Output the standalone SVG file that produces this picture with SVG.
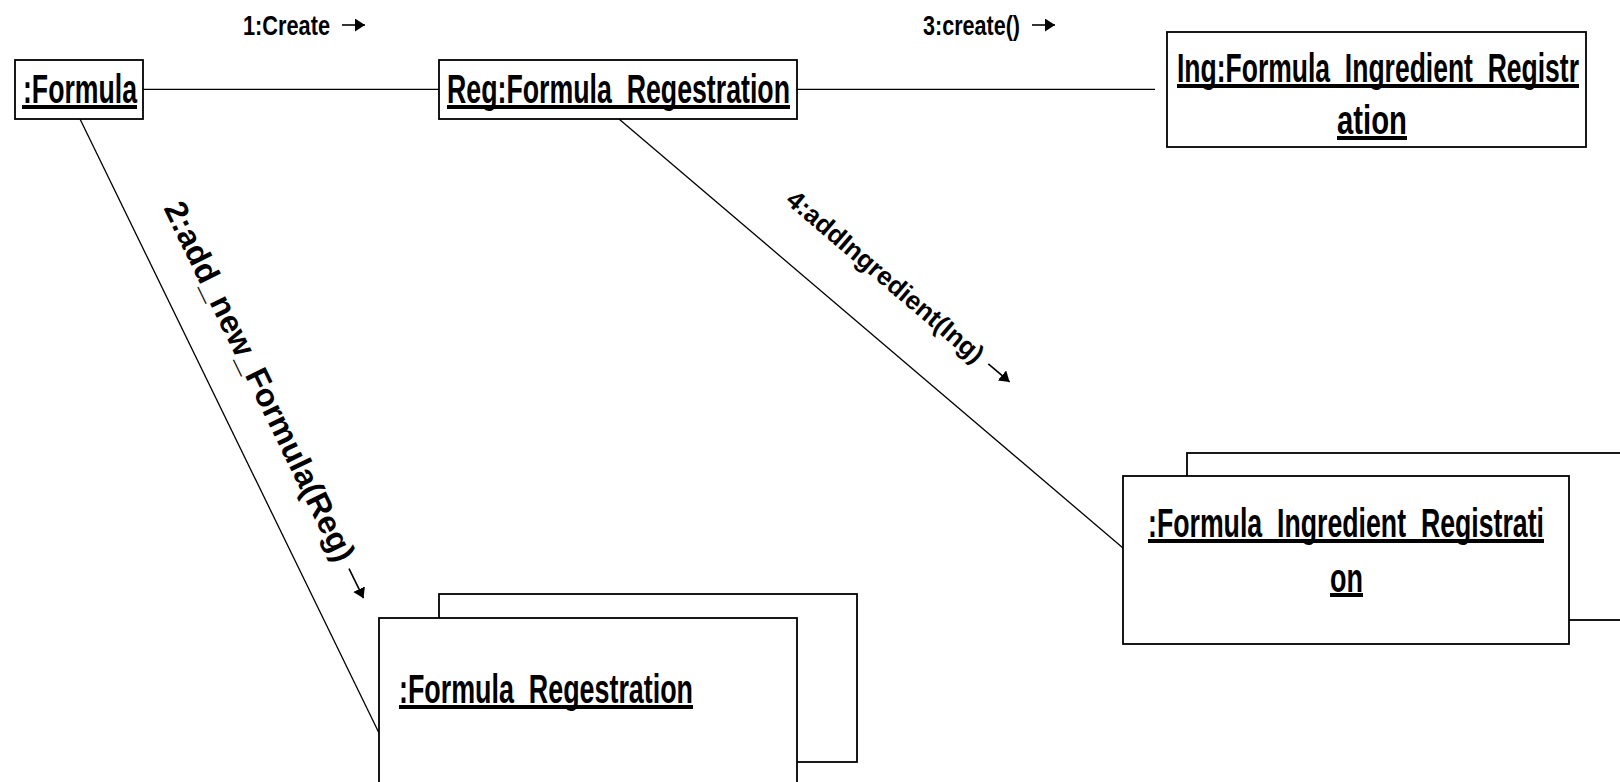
<svg xmlns="http://www.w3.org/2000/svg" width="1620" height="782" viewBox="0 0 1620 782">
  <style>
    .box { fill: #fff; stroke: #000; stroke-width: 1.8; }
    .link { stroke: #000; stroke-width: 1.3; fill: none; }
    .uline { stroke: #000; stroke-width: 4; }
    .name { font-family: "Liberation Sans Narrow", "Liberation Sans", Arial, sans-serif; font-weight: bold; font-size: 40px; fill: #000; }
    .msg { font-family: "Liberation Sans Narrow", "Liberation Sans", Arial, sans-serif; font-weight: bold; font-size: 28px; fill: #000; }
    .msgr { font-family: "Liberation Sans", Arial, sans-serif; font-weight: bold; fill: #000; }
    .arrow { stroke: #000; stroke-width: 1.6; fill: none; marker-end: url(#head); }
  </style>
  <defs>
    <marker id="head" markerUnits="userSpaceOnUse" markerWidth="11" markerHeight="13" refX="10" refY="6.5" orient="auto">
      <path d="M0,0 L10,6.5 L0,13 z" fill="#000"/>
    </marker>
  </defs>
  <rect width="1620" height="782" fill="#fff"/>

  <!-- links between objects -->
  <g id="connectors">
    <line class="link" x1="143" y1="89.3" x2="439" y2="89.3"/>
    <line class="link" x1="797" y1="89.3" x2="1155" y2="89.3"/>
    <line class="link" x1="80" y1="119" x2="379" y2="733"/>
    <line class="link" x1="619" y1="119" x2="1123" y2="548"/>
  </g>

  <!-- message labels with direction arrows -->
  <g id="messages">
    <text class="msg" x="243" y="35" textLength="87" lengthAdjust="spacingAndGlyphs">1:Create</text>
    <line class="arrow" x1="342" y1="25" x2="365" y2="25"/>

    <text class="msg" x="923" y="35" textLength="97" lengthAdjust="spacingAndGlyphs">3:create()</text>
    <line class="arrow" x1="1032" y1="25" x2="1055" y2="25"/>

    <text class="msgr" font-size="32" transform="translate(163.2,208) rotate(64.03)" textLength="396" lengthAdjust="spacingAndGlyphs">2:add_new_Formula(Reg)</text>
    <line class="arrow" x1="349" y1="568.6" x2="363.5" y2="598.2"/>

    <text class="msgr" font-size="26" transform="translate(784.5,202.2) rotate(40.4)" textLength="250" lengthAdjust="spacingAndGlyphs">4:addIngredient(Ing)</text>
    <line class="arrow" x1="988.3" y1="363.8" x2="1009.6" y2="381.9"/>
  </g>

  <!-- :Formula -->
  <g id="formula">
    <rect class="box" x="15" y="60" width="128" height="59"/>
    <text class="name" x="23" y="103" textLength="114" lengthAdjust="spacingAndGlyphs">:Formula</text>
    <line class="uline" x1="22" y1="107" x2="137" y2="107"/>
  </g>

  <!-- Reg:Formula_Regestration -->
  <g id="reg">
    <rect class="box" x="439" y="60" width="358" height="59"/>
    <text class="name" x="447" y="103" textLength="343" lengthAdjust="spacingAndGlyphs">Reg:Formula_Regestration</text>
    <line class="uline" x1="447" y1="107" x2="790" y2="107"/>
  </g>

  <!-- Ing:Formula_Ingredient_Registration -->
  <g id="ing">
    <rect class="box" x="1167" y="32" width="419" height="115"/>
    <text class="name" x="1177" y="82" textLength="402" lengthAdjust="spacingAndGlyphs">Ing:Formula_Ingredient_Registr</text>
    <line class="uline" x1="1177" y1="86" x2="1579" y2="86"/>
    <text class="name" x="1337" y="134" textLength="70" lengthAdjust="spacingAndGlyphs">ation</text>
    <line class="uline" x1="1337" y1="138" x2="1407" y2="138"/>
  </g>

  <!-- :Formula_Regestration (multi-object) -->
  <g id="formula-reg-multi">
    <rect class="box" x="439" y="594" width="418" height="168"/>
    <rect class="box" x="379" y="618" width="418" height="180"/>
    <text class="name" x="399" y="703" textLength="294" lengthAdjust="spacingAndGlyphs">:Formula_Regestration</text>
    <line class="uline" x1="399" y1="707" x2="693" y2="707"/>
  </g>

  <!-- :Formula_Ingredient_Registration (multi-object) -->
  <g id="ingredient-multi">
    <rect class="box" x="1187" y="453" width="460" height="167"/>
    <rect class="box" x="1123" y="476" width="446" height="168"/>
    <text class="name" x="1148" y="537" textLength="396" lengthAdjust="spacingAndGlyphs">:Formula_Ingredient_Registrati</text>
    <line class="uline" x1="1148" y1="541" x2="1544" y2="541"/>
    <text class="name" x="1330" y="592" textLength="33" lengthAdjust="spacingAndGlyphs">on</text>
    <line class="uline" x1="1330" y1="595" x2="1363" y2="595"/>
  </g>
</svg>
